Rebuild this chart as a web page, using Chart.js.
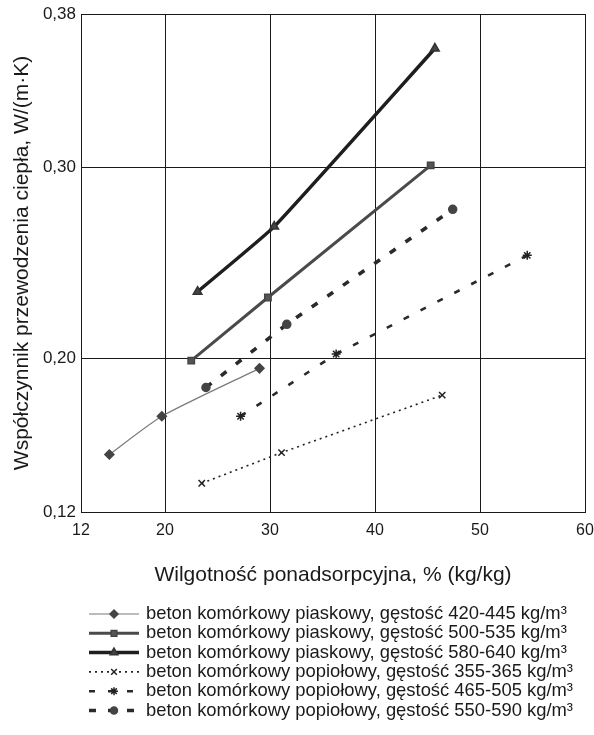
<!DOCTYPE html>
<html><head><meta charset="utf-8">
<script src="https://cdn.jsdelivr.net/npm/chart.js@4/dist/chart.umd.min.js"></script>
<style>html,body{margin:0;padding:0;background:#fff}</style>
</head><body>
<canvas id="c" width="594" height="735" style="width:594px;height:735px;display:block"></canvas>
<script>
// ---- data ----
const seriesLabels = [
  'beton komórkowy piaskowy, gęstość 420-445 kg/m³',
  'beton komórkowy piaskowy, gęstość 500-535 kg/m³',
  'beton komórkowy piaskowy, gęstość 580-640 kg/m³',
  'beton komórkowy popiołowy, gęstość 355-365 kg/m³',
  'beton komórkowy popiołowy, gęstość 465-505 kg/m³',
  'beton komórkowy popiołowy, gęstość 550-590 kg/m³'
];
const s1x = [14.7, 19.7, 29.0];  const s1y = [0.150, 0.170, 0.195];
const s2x = [22.5, 29.8, 45.3];  const s2y = [0.199, 0.232, 0.301];
const s3x = [23.1, 30.4, 45.7];  const s3y = [0.235, 0.269, 0.362];
const s4x = [23.5, 31.1, 46.4];  const s4y = [0.135, 0.151, 0.181];
const s5x = [27.2, 36.3, 54.5];  const s5y = [0.170, 0.2025, 0.254];
const s6x = [23.9, 31.6, 47.4];  const s6y = [0.185, 0.218, 0.278];
const xTicks = [12, 20, 30, 40, 50, 60];
const yTicks = [0.12, 0.20, 0.30, 0.38];
const xTitle = 'Wilgotność ponadsorpcyjna, % (kg/kg)';
const yTitle = 'Współczynnik przewodzenia ciepła, W/(m·K)';

const pts = (xs, ys) => xs.map((x, i) => ({x: x, y: ys[i]}));
const FONT = "'Liberation Sans', Arial, sans-serif";

const styles = [
  {borderColor:'#7a7a7a', borderWidth:1.2, borderDash:[], pointStyle:'rectRot', pointRadius:4.5, pointBackgroundColor:'#444', pointBorderColor:'#444', tension:0.2},
  {borderColor:'#4a4a4a', borderWidth:3, borderDash:[], pointStyle:'rect', pointRadius:4.5, pointBackgroundColor:'#555', pointBorderColor:'#444', tension:0},
  {borderColor:'#1e1e1e', borderWidth:3.5, borderDash:[], pointStyle:'triangle', pointRadius:5, pointBackgroundColor:'#444', pointBorderColor:'#333', tension:0.12},
  {borderColor:'#222', borderWidth:1.6, borderDash:[2,4], pointStyle:'crossRot', pointRadius:4.5, pointBackgroundColor:'#222', pointBorderColor:'#222', tension:0},
  {borderColor:'#2a2a2a', borderWidth:2.6, borderDash:[6,13], pointStyle:'star', pointRadius:4.5, pointBackgroundColor:'#222', pointBorderColor:'#222', tension:0},
  {borderColor:'#2a2a2a', borderWidth:3.6, borderDash:[7,12], pointStyle:'circle', pointRadius:4, pointBackgroundColor:'#444', pointBorderColor:'#444', tension:0}
];
const allData = [pts(s1x,s1y), pts(s2x,s2y), pts(s3x,s3y), pts(s4x,s4y), pts(s5x,s5y), pts(s6x,s6y)];

const datasets = allData.map((d, i) => Object.assign({
  label: seriesLabels[i], data: d, showLine: true, fill: false,
  pointBorderWidth: 1.5
}, styles[i]));

function drawMarker(ctx, style, r, x, y) {
  const H = Chart.helpers;
  if (H && H.drawPoint) {
    H.drawPoint(ctx, {pointStyle: style, radius: r, rotation: 0, borderWidth: 1.5}, x, y);
  } else {
    ctx.beginPath(); ctx.arc(x, y, r, 0, Math.PI*2); ctx.fill(); ctx.stroke();
  }
}

const legendPlugin = {
  id: 'customLegend',
  afterDraw(chart) {
    const ctx = chart.ctx;
    const x0 = 89, x1 = 139, xt = 146;
    chart.data.datasets.forEach((ds, i) => {
      const y = 614 + i * 19.3;
      ctx.save();
      ctx.strokeStyle = ds.borderColor;
      ctx.lineWidth = ds.borderWidth;
      ctx.setLineDash(ds.borderDash || []);
      ctx.beginPath(); ctx.moveTo(x0, y); ctx.lineTo(x1, y); ctx.stroke();
      ctx.setLineDash([]);
      ctx.fillStyle = ds.pointBackgroundColor;
      ctx.strokeStyle = ds.pointBorderColor;
      ctx.lineWidth = 1.5;
      drawMarker(ctx, ds.pointStyle, ds.pointRadius - 0.5, (x0 + x1) / 2, y);
      ctx.fillStyle = '#1a1a1a';
      ctx.font = '18.4px ' + FONT;
      ctx.textBaseline = 'middle';
      ctx.textAlign = 'left';
      ctx.fillText(ds.label, xt, y);
      ctx.restore();
    });
  }
};

new Chart(document.getElementById('c'), {
  type: 'scatter',
  data: { datasets: datasets },
  plugins: [legendPlugin],
  options: {
    responsive: false,
    animation: false,
    devicePixelRatio: 1,
    layout: { padding: { top: 14, right: 9, left: 6, bottom: 143 } },
    plugins: { legend: { display: false }, tooltip: { enabled: false } },
    scales: {
      x: {
        type: 'linear', min: 12, max: 60,
        afterBuildTicks: s => { s.ticks = xTicks.map(v => ({value: v})); },
        afterFit: s => { s.height = 80; s.paddingRight = 0; s.paddingLeft = 0; },
        ticks: { color: '#1a1a1a', font: { family: FONT, size: 16 }, padding: 9, callback: v => String(v), autoSkip: false, maxRotation: 0 },
        grid: { color: '#1a1a1a', lineWidth: 1, drawTicks: false },
        border: { display: true, color: '#1a1a1a', width: 1 },
        title: { display: true, text: xTitle, color: '#1a1a1a', font: { family: FONT, size: 21 } }
      },
      y: {
        type: 'linear', min: 0.12, max: 0.38,
        afterBuildTicks: s => { s.ticks = yTicks.map(v => ({value: v})); },
        afterFit: s => { s.width = 75; s.paddingTop = 0; s.paddingBottom = 0; },
        ticks: { color: '#1a1a1a', font: { family: FONT, size: 17 }, padding: 5, callback: v => v.toFixed(2).replace('.', ','), autoSkip: false },
        grid: { color: '#1a1a1a', lineWidth: 1, drawTicks: false },
        border: { display: true, color: '#1a1a1a', width: 1 },
        title: { display: true, text: yTitle, color: '#1a1a1a', font: { family: FONT, size: 21 } }
      }
    }
  }
});
</script>
</body></html>
